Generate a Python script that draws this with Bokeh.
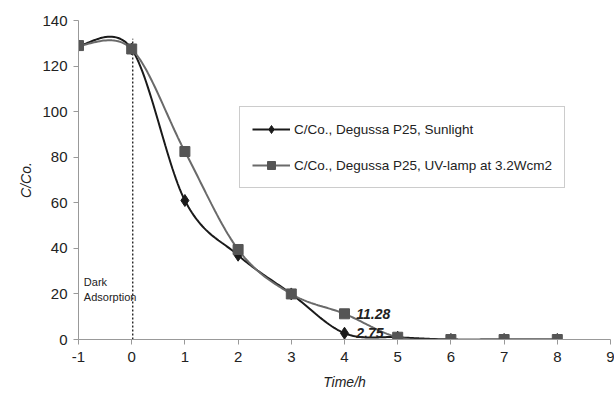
import numpy as np
from bokeh.plotting import figure
from bokeh.models import Range1d, Legend, LegendItem, Label, FixedTicker
from bokeh.embed import file_html
from bokeh.resources import INLINE

time_h = [-1, 0, 1, 2, 3, 4, 5, 6, 7, 8]
sunlight = [129, 127.5, 61, 37, 20, 2.75, 1, 0, 0, 0]
uv_lamp = [129, 127.5, 82.5, 39.5, 20, 11.28, 1, 0, 0, 0]
x_ticks = list(range(-1, 10))
y_ticks = list(range(0, 141, 20))
dark_end = [0.02]
dark_top = [132]

FONT = "Liberation Sans"


def smooth(xs, ys, n=30):
    xs = np.asarray(xs, float)
    ys = np.asarray(ys, float)
    px = np.concatenate([[xs[0]], xs, [xs[-1]]])
    py = np.concatenate([[ys[0]], ys, [ys[-1]]])
    ox, oy = [], []
    for i in range(1, len(px) - 2):
        t = np.linspace(0, 1, n, endpoint=(i == len(px) - 3))
        p0x, p1x, p2x, p3x = px[i - 1], px[i], px[i + 1], px[i + 2]
        p0y, p1y, p2y, p3y = py[i - 1], py[i], py[i + 1], py[i + 2]
        c1x, c1y = p1x + (p2x - p0x) / 6, p1y + (p2y - p0y) / 6
        c2x, c2y = p2x - (p3x - p1x) / 6, p2y - (p3y - p1y) / 6
        b0 = (1 - t) ** 3
        b1 = 3 * (1 - t) ** 2 * t
        b2 = 3 * (1 - t) * t ** 2
        b3 = t ** 3
        ox.extend(b0 * p1x + b1 * c1x + b2 * c2x + b3 * p2x)
        oy.extend(b0 * p1y + b1 * c1y + b2 * c2y + b3 * p2y)
    return ox, oy


p = figure(width=614, height=393, output_backend="svg", toolbar_location=None,
           x_range=Range1d(-1, 9), y_range=Range1d(0, 140),
           min_border_left=78, min_border_right=4, min_border_top=20, min_border_bottom=54)
p.outline_line_color = None
p.xgrid.visible = False
p.ygrid.visible = False
p.background_fill_color = "white"

BLACK = "#1a1a1a"
GRAY_LINE = "#6a6a6a"
GRAY_MARK = "#555555"

# dark adsorption divider
p.segment(x0=dark_end, y0=[0], x1=dark_end, y1=dark_top, line_color="black",
          line_dash="2 2", line_width=1.2)

sx2, sy2 = smooth(time_h, sunlight)
l_sun = p.line(sx2, sy2, line_color=BLACK, line_width=2)
m_sun = p.scatter(time_h, sunlight, marker="diamond", size=12, fill_color=BLACK,
                  line_color=BLACK)

sx, sy = smooth(time_h, uv_lamp)
l_uv = p.line(sx, sy, line_color=GRAY_LINE, line_width=2)
m_uv = p.scatter(time_h, uv_lamp, marker="square", size=10, fill_color=GRAY_MARK,
                 line_color=GRAY_MARK)

# value labels at t = 4 h
for series in (uv_lamp, sunlight):
    p.add_layout(Label(x=time_h[5] + 0.22, y=series[5], text=f"{series[5]:g}",
                       text_font=FONT, text_font_size="14px", text_font_style="bold italic",
                       text_color="#222222", text_baseline="middle"))

p.add_layout(Label(x=-0.9, y=22, text="Dark\nAdsorption", text_font=FONT,
                   text_font_size="11px", text_color="#222222", text_baseline="middle",
                   text_line_height=1.3))

legend = Legend(items=[LegendItem(label="C/Co., Degussa P25, Sunlight", renderers=[l_sun, m_sun]),
                       LegendItem(label="C/Co., Degussa P25, UV-lamp at 3.2Wcm2", renderers=[l_uv, m_uv])],
                location=(161, 151), label_text_font=FONT, label_text_font_size="13.5px",
                label_text_color="#222222", border_line_color="#999999",
                glyph_width=38, spacing=16, padding=12, margin=0,
                label_standoff=4, background_fill_alpha=1)
p.add_layout(legend, "center")

for ax in (p.xaxis[0], p.yaxis[0]):
    ax.axis_line_color = "#999999"
    ax.major_tick_line_color = "#999999"
    ax.minor_tick_line_color = None
    ax.major_tick_in = 0
    ax.major_tick_out = 5
    ax.major_label_text_font = FONT
    ax.major_label_text_font_size = "15px"
    ax.major_label_text_color = "#222222"
    ax.axis_label_text_font = FONT
    ax.axis_label_text_font_size = "14px"
    ax.axis_label_text_font_style = "italic"
    ax.axis_label_text_color = "#222222"

p.xaxis.ticker = FixedTicker(ticks=x_ticks)
p.yaxis.ticker = FixedTicker(ticks=y_ticks)
p.xaxis.major_label_overrides = {t: str(t) for t in x_ticks}
p.xaxis.axis_label = "Time/h"
p.yaxis.axis_label = "C/Co."
p.xaxis.major_label_standoff = 7
p.xaxis.axis_label_standoff = 9
p.yaxis.major_label_standoff = 6
p.yaxis.axis_label_standoff = 5

open("out.html", "w").write(file_html(p, INLINE))
